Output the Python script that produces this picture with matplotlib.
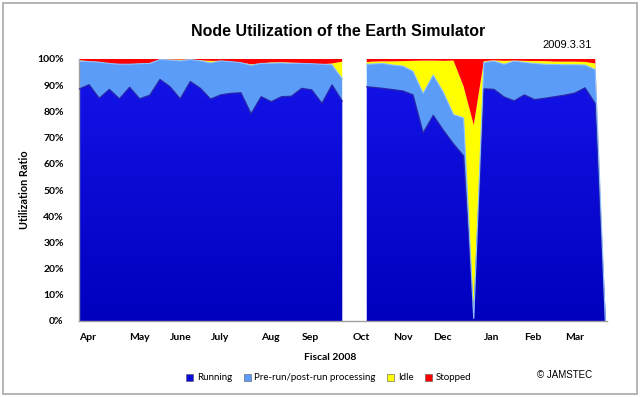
import numpy as np
import pandas as pd
import matplotlib
matplotlib.use('Agg')
import matplotlib.pyplot as plt
import matplotlib.dates as mdates
from matplotlib.patches import Rectangle, Patch
from matplotlib.colors import LinearSegmentedColormap

# ---------------- data ----------------
left_dates = pd.date_range('2008-04-01', '2008-09-30', freq='7D')
right_dates = pd.DatetimeIndex(['2008-10-17']).append(
    pd.date_range('2008-10-21', '2009-03-31', freq='7D'))

running_left = [88.5, 90.2, 85.0, 88.4, 84.8, 89.2, 84.8, 86.2, 92.2, 89.4, 84.8, 91.4, 88.8, 84.7,
                86.3, 86.9, 87.1, 79.1, 85.6, 83.7, 85.6, 85.8, 88.8, 88.2, 83.1, 90.1, 84.0]
prerun_left = [10.7, 8.8, 13.8, 9.9, 13.2, 8.8, 13.4, 12.1, 7.6, 10.2, 14.5, 8.4, 10.5, 13.8,
               13.0, 12.1, 11.5, 18.5, 12.7, 14.7, 12.9, 12.5, 9.5, 10.0, 14.9, 7.7, 8.5]
idle_left = [0.3, 0.2, 0.0, 0.0, 0.0, 0.0, 0.0, 0.2, 0.0, 0.2, 0.5, 0.0, 0.2, 0.8,
             0.0, 0.0, 0.0, 0.4, 0.0, 0.3, 0.3, 0.3, 0.2, 0.0, 0.0, 0.5, 6.5]
stopped_left = [0.5, 0.8, 1.2, 1.7, 2.0, 2.0, 1.8, 1.5, 0.2, 0.2, 0.2, 0.2, 0.5, 0.7,
                0.7, 1.0, 1.4, 2.0, 1.7, 1.3, 1.2, 1.4, 1.5, 1.8, 2.0, 1.7, 1.0]

running_right = [89.4, 89.2, 88.8, 88.3, 87.8, 86.3, 71.8, 78.5, 72.8, 67.6, 63.0, 1.0, 88.6,
                 88.4, 85.5, 84.0, 86.3, 84.5, 85.0, 85.6, 86.2, 87.0, 89.0, 83.0, 0.0]
prerun_right = [8.6, 8.9, 9.5, 9.4, 9.5, 9.0, 15.1, 15.4, 14.5, 11.2, 14.5, 0.0, 10.1,
                10.8, 12.5, 15.2, 12.4, 13.8, 13.0, 12.3, 11.6, 10.8, 8.7, 13.0, 0.0]
idle_right = [0.8, 0.9, 0.8, 1.4, 1.9, 4.0, 12.5, 5.5, 12.0, 20.6, 12.0, 73.8, 0.5,
              0.3, 1.3, 0.2, 0.6, 0.9, 1.2, 1.1, 1.2, 1.2, 1.2, 2.3, 0.0]
stopped_right = [1.2, 1.0, 0.9, 0.9, 0.8, 0.7, 0.6, 0.6, 0.7, 0.6, 10.5, 25.2, 0.8,
                 0.5, 0.7, 0.6, 0.7, 0.8, 0.8, 1.0, 1.0, 1.0, 1.1, 1.7, 0.0]

month_ticks = ['2008-04-01', '2008-05-06', '2008-06-03', '2008-07-01', '2008-08-05', '2008-09-02',
               '2008-10-07', '2008-11-04', '2008-12-02', '2009-01-06', '2009-02-03', '2009-03-03']
month_labels = ['Apr', 'May', 'June', 'July', 'Aug', 'Sep', 'Oct', 'Nov', 'Dec', 'Jan', 'Feb', 'Mar']
series_names = ['Running', 'Pre-run/post-run processing', 'Idle', 'Stopped']
yticks = [0, 10, 20, 30, 40, 50, 60, 70, 80, 90, 100]

# ---------------- style ----------------
c_run = '#0A0ADC'
c_pre = '#5A9CF8'
c_idle = '#FFFF00'
c_stop = '#FF0000'
W, H = 640, 397
fig = plt.figure(figsize=(W / 100, H / 100), dpi=100)
fig.patch.set_facecolor('white')
fig.add_artist(Rectangle((3 / W, 3 / H), 634 / W, 391 / H, transform=fig.transFigure,
                         facecolor='none', edgecolor='#A8A8A8', lw=1.2))

ax = fig.add_axes([79 / W, (H - 321) / H, 528.5 / W, 262 / H])
x0 = mdates.date2num(pd.Timestamp('2008-04-01'))

run_cmap = LinearSegmentedColormap.from_list('run', ['#1414EA', '#0000BE'])

for dates, r, p, i, s in [(left_dates, running_left, prerun_left, idle_left, stopped_left),
                          (right_dates, running_right, prerun_right, idle_right, stopped_right)]:
    xs = mdates.date2num(dates)
    polys = ax.stackplot(xs, r, p, i, s, colors=[c_run, c_pre, c_idle, c_stop], lw=0)
    # gradient for running area
    grad = np.linspace(0, 1, 256).reshape(-1, 1)
    im = ax.imshow(grad, cmap=run_cmap, aspect='auto', origin='upper',
                   extent=[xs[0], xs[-1], 0, 100], zorder=polys[0].get_zorder() + 0.1)
    im.set_clip_path(polys[0].get_paths()[0], transform=ax.transData)
    r = np.array(r); p = np.array(p)
    ax.plot(xs, r, color='#2828A8', lw=0.9, zorder=3)
    ax.plot(xs, r + p, color='#8EC0FF', lw=0.8, zorder=3)

ax.set_xlim(x0, x0 + 365.5)
ax.set_ylim(0, 100)
ax.set_yticks(yticks)
ax.set_yticklabels([f'{v}%' for v in yticks])
ax.set_xticks(mdates.date2num(pd.to_datetime(month_ticks)))
ax.set_xticklabels(month_labels)
for lab in ax.get_xticklabels():
    lab.set_ha('left')
ax.tick_params(axis='both', length=0, labelsize=7.5)
ax.tick_params(axis='x', pad=9)
ax.tick_params(axis='y', pad=11)
for lab in ax.get_xticklabels() + ax.get_yticklabels():
    lab.set_fontfamily('Lato')
    lab.set_fontweight('bold')
for sp in ['top', 'right']:
    ax.spines[sp].set_visible(False)
for sp in ['left', 'bottom']:
    ax.spines[sp].set_color('#A0A0A0')
    ax.spines[sp].set_linewidth(1.0)
ax.set_facecolor('white')

fig.text(338 / W, 1 - 31 / H, 'Node Utilization of the Earth Simulator', ha='center', va='center',
         fontsize=11.5, fontweight='bold', family='Liberation Sans')
fig.text(592 / W, 1 - 45 / H, '2009.3.31', ha='right', va='center', fontsize=8,
         family='Liberation Sans')
fig.text(25 / W, 1 - 190 / H, 'Utilization Ratio', rotation=90, ha='center', va='center',
         fontsize=7.8, fontweight='bold', family='Lato')
fig.text(330 / W, 1 - 357 / H, 'Fiscal 2008', ha='center', va='center', fontsize=7.5,
         fontweight='bold', family='Lato')
fig.text(592 / W, 1 - 375 / H, '\u00a9 JAMSTEC', ha='right', va='center', fontsize=7,
         family='Liberation Sans')

handles = [Patch(facecolor=c, edgecolor='#555555', lw=0.4) for c in [c_run, c_pre, c_idle, c_stop]]
fig.legend(handles, series_names, loc='center', bbox_to_anchor=(329 / W, 1 - 378 / H), ncol=4,
           frameon=False, prop={'family': 'Lato', 'size': 7}, handlelength=0.7, handleheight=0.7,
           handletextpad=0.4, columnspacing=1.2)

fig.savefig('out.png', dpi=100)
